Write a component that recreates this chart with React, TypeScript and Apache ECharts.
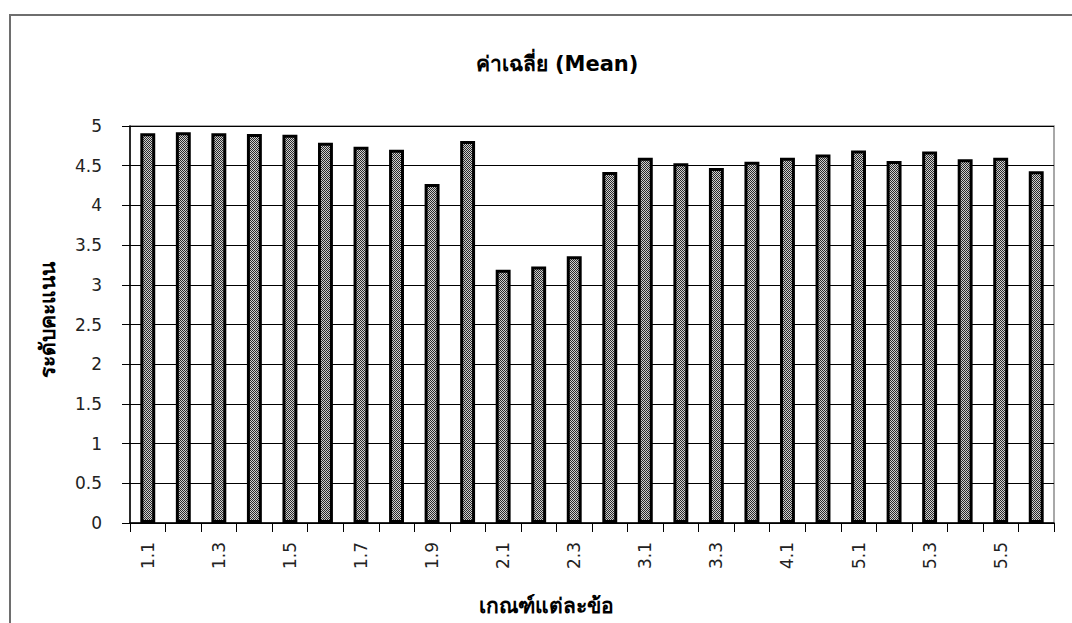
import React, { useEffect, useRef } from "react";
import * as echarts from "echarts";

const categories = [
  "1.1", "1.2", "1.3", "1.4", "1.5", "1.6", "1.7", "1.8", "1.9", "1.10",
  "2.1", "2.2", "2.3", "2.4",
  "3.1", "3.2", "3.3", "3.4",
  "4.1", "4.2",
  "5.1", "5.2", "5.3", "5.4", "5.5", "5.6",
];
const meanValues = [
  4.91, 4.92, 4.91, 4.9, 4.89, 4.79, 4.74, 4.7, 4.27, 4.81,
  3.19, 3.23, 3.36, 4.42,
  4.6, 4.53, 4.47, 4.55,
  4.6, 4.64,
  4.69, 4.56, 4.68, 4.58, 4.6, 4.43,
];
const yTicks = [0, 0.5, 1, 1.5, 2, 2.5, 3, 3.5, 4, 4.5, 5];
const titleText = "ค่าเฉลี่ย (Mean)";
const xName = "เกณฑ์แต่ละข้อ";
const yName = "ระดับคะแนน";

const FONT = 'Tahoma, "DejaVu Sans", "Noto Sans", sans-serif';

export default function App() {
  const ref = useRef<HTMLDivElement>(null);
  useEffect(() => {
    if (!ref.current) return;
    const chart = echarts.init(ref.current, null, { renderer: "svg" });
    const cv = document.createElement("canvas");
    cv.width = 2;
    cv.height = 2;
    const ctx = cv.getContext("2d")!;
    ctx.fillStyle = "#cfcfcf";
    ctx.fillRect(0, 0, 2, 2);
    ctx.fillStyle = "#2a2a2a";
    ctx.fillRect(0, 0, 1, 1);
    ctx.fillRect(1, 1, 1, 1);
    const pattern: any = {
      image: cv,
      repeat: "repeat",
      imageWidth: 2,
      imageHeight: 2,
    };
    chart.setOption({
      animation: false,
      backgroundColor: "#ffffff",
      textStyle: { fontFamily: FONT },
      grid: {
        left: 130,
        right: 18,
        top: 126,
        bottom: 100,
        show: true,
        borderColor: "#8c8c8c",
        borderWidth: 1.5,
        backgroundColor: "transparent",
      },
      graphic: [
        {
          type: "rect",
          shape: { x: 10, y: 15, width: 1100, height: 700 },
          style: { fill: "none", stroke: "#6e6e6e", lineWidth: 2 },
          silent: true,
        },
        {
          type: "text",
          x: 557,
          y: 64,
          style: {
            text: titleText,
            fontFamily: FONT,
            fontSize: 21,
            fontWeight: "bold",
            fill: "#000",
            align: "center",
            verticalAlign: "middle",
          },
        },
        {
          type: "text",
          x: 546,
          y: 606,
          style: {
            text: xName,
            fontFamily: FONT,
            fontSize: 21,
            fontWeight: "bold",
            fill: "#000",
            align: "center",
            verticalAlign: "middle",
          },
        },
        {
          type: "text",
          x: 48,
          y: 320,
          rotation: Math.PI / 2,
          style: {
            text: yName,
            fontFamily: FONT,
            fontSize: 21,
            fontWeight: "bold",
            fill: "#000",
            align: "center",
            verticalAlign: "middle",
          },
        },
      ],
      xAxis: {
        type: "category",
        data: categories,
        axisLine: { show: true, lineStyle: { color: "#000", width: 1.5 } },
        axisTick: {
          show: true,
          alignWithLabel: false,
          interval: 0,
          length: 9,
          lineStyle: { color: "#000", width: 1 },
        },
        axisLabel: {
          interval: 1,
          rotate: 90,
          margin: 19,
          fontSize: 17,
          color: "#222",
          fontFamily: FONT,
        },
        splitLine: { show: false },
      },
      yAxis: {
        type: "value",
        min: 0,
        max: 5,
        interval: 0.5,
        axisLine: { show: true, lineStyle: { color: "#000", width: 1.5 } },
        axisTick: { show: true, length: 8, lineStyle: { color: "#000" } },
        axisLabel: {
          margin: 28,
          fontSize: 17,
          color: "#222",
          fontFamily: FONT,
          formatter: (v: number) => (yTicks.includes(v) ? String(v) : ""),
        },
        splitLine: { show: true, lineStyle: { color: "#000", width: 1 } },
      },
      series: [
        {
          type: "bar",
          data: meanValues,
          barWidth: "42%",
          itemStyle: {
            color: pattern,
            borderColor: "#000",
            borderWidth: 3,
          },
        },
      ],
    });
    return () => chart.dispose();
  }, []);
  return (
    <div
      ref={ref}
      style={{ position: "absolute", left: 0, top: 0, width: 1072, height: 623 }}
    />
  );
}
